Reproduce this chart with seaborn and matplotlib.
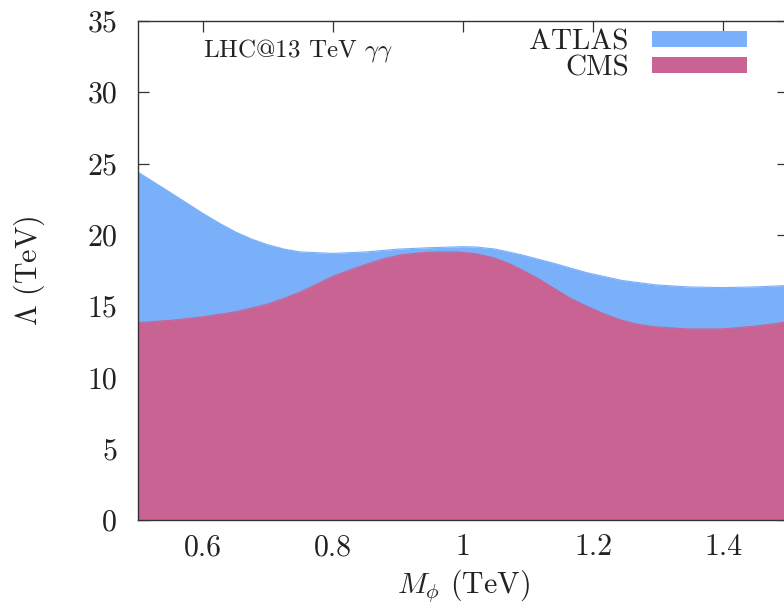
import matplotlib
matplotlib.use("Agg")
import matplotlib.pyplot as plt
import seaborn as sns
import pandas as pd

# Exclusion limits on the scale Lambda (TeV) versus the scalar mass M_phi (TeV)
atlas_mass = [0.50, 0.525, 0.55, 0.575, 0.60, 0.625, 0.65, 0.675, 0.70, 0.725,
              0.75, 0.80, 0.85, 0.90, 0.95, 1.00, 1.02, 1.05, 1.09, 1.14,
              1.19, 1.245, 1.295, 1.345, 1.40, 1.45, 1.50]
atlas_lambda = [24.4, 23.68, 22.96, 22.23, 21.5, 20.82, 20.2, 19.7, 19.3, 19.0,
                18.8, 18.7, 18.8, 19.0, 19.1, 19.17, 19.15, 19.0, 18.6, 18.0,
                17.35, 16.8, 16.5, 16.35, 16.3, 16.35, 16.45]

cms_mass = [0.50, 0.55, 0.60, 0.65, 0.70, 0.725, 0.75, 0.775, 0.80, 0.83,
            0.855, 0.88, 0.905, 0.93, 0.955, 0.99, 1.02, 1.05, 1.07, 1.09, 1.115,
            1.14, 1.165, 1.195, 1.22, 1.245, 1.27, 1.295, 1.345, 1.40, 1.45, 1.50]
cms_lambda = [13.85, 14.0, 14.25, 14.6, 15.15, 15.55, 16.0, 16.55, 17.1, 17.6,
              18.0, 18.35, 18.6, 18.72, 18.8, 18.8, 18.68, 18.35, 18.0, 17.55, 16.95,
              16.25, 15.55, 14.9, 14.4, 14.0, 13.72, 13.55, 13.4, 13.4, 13.6, 13.9]

x_ticks = [0.6, 0.8, 1.0, 1.2, 1.4]
x_tick_labels = ["0.6", "0.8", "1", "1.2", "1.4"]
y_ticks = [0, 5, 10, 15, 20, 25, 30, 35]

atlas_color = "#7aaffa"
cms_color = "#c86394"
ink = "#222222"

sns.set_theme(style="ticks")
plt.rcParams["font.family"] = ["cmr10", "DejaVu Serif"]
plt.rcParams["mathtext.fontset"] = "cm"
plt.rcParams["axes.unicode_minus"] = False
plt.rcParams["axes.formatter.use_mathtext"] = True

atlas = pd.DataFrame({"mass": atlas_mass, "lam": atlas_lambda})
cms = pd.DataFrame({"mass": cms_mass, "lam": cms_lambda})

W, H = 784, 604
fig = plt.figure(figsize=(W / 100, H / 100), dpi=100)
fig.patch.set_facecolor("white")
ax = fig.add_axes([138 / W, 1 - 520 / H, (788 - 138) / W, (520 - 21) / H])
ax.set_facecolor("white")

ax.fill_between(atlas["mass"], 0, atlas["lam"], color=atlas_color,
                linewidth=0, label="ATLAS", zorder=1)
sns.lineplot(data=atlas, x="mass", y="lam", ax=ax, color=atlas_color,
             linewidth=0.8, zorder=1.5, legend=False)
ax.fill_between(cms["mass"], 0, cms["lam"], color=cms_color,
                linewidth=0, label="CMS", zorder=2)
sns.lineplot(data=cms, x="mass", y="lam", ax=ax, color=cms_color,
             linewidth=0.8, zorder=2.5, legend=False)

ax.set_xlim(0.5, 1.5)
ax.set_ylim(0, 35)
ax.set_xticks(x_ticks)
ax.set_xticklabels(x_tick_labels)
ax.set_yticks(y_ticks)
ax.set_yticklabels([str(v) for v in y_ticks])
ax.tick_params(direction="in", length=8, width=0.9, color="#333333",
               top=True, right=True, labelsize=21.5, labelcolor=ink)
ax.tick_params(axis="x", pad=10)
ax.tick_params(axis="y", pad=15)
for side in ax.spines.values():
    side.set_color("#333333")
    side.set_linewidth(1.0)
    side.set_zorder(5)

ax.set_xlabel(r"$M_\phi$ (TeV)", fontsize=21.5, color=ink, labelpad=4)
ax.set_ylabel(r"$\Lambda$ (TeV)", fontsize=21.5, color=ink, labelpad=29)

ax.text(0.6, 32.5, r"LHC@13 TeV $\gamma\gamma$", fontsize=18,
        color=ink, ha="left", va="baseline")

leg = ax.legend(loc="upper right", bbox_to_anchor=(747 / W, 1 - 29 / H),
                bbox_transform=fig.transFigure, frameon=False, fontsize=21,
                markerfirst=False, handlelength=3.25, handleheight=0.48,
                handletextpad=0.8, labelspacing=0.0, borderpad=0,
                borderaxespad=0)
for t in leg.get_texts():
    t.set_color(ink)

fig.savefig("out.png", dpi=100, facecolor="white")
